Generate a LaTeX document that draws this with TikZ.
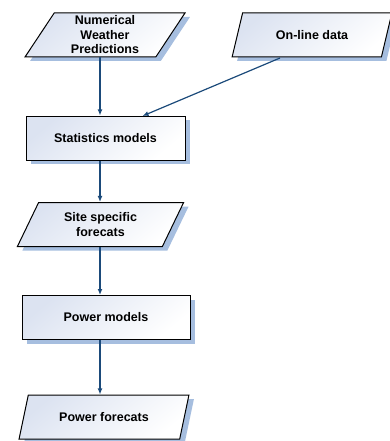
\documentclass[tikz,border=0pt]{standalone}
\usepackage{fontspec}
\setmainfont{Liberation Sans}
\usetikzlibrary{shapes.geometric,shadows,arrows.meta}
\definecolor{boxtop}{HTML}{DCE3F1}
\definecolor{boxbottom}{HTML}{FFFFFF}
\definecolor{shadowblue}{HTML}{A6BEDF}
\definecolor{flowblue}{HTML}{1B4A7A}
\tikzset{
  basebox/.style={draw=black, line width=1pt, top color=boxtop, bottom color=boxbottom,
    shading angle=40,
    font=\fontsize{12.5}{14.5}\selectfont\bfseries, align=center, inner sep=1pt,
    drop shadow={shadow xshift=5pt, shadow yshift=-4pt, fill=shadowblue, opacity=1}},
  databox/.style={basebox, trapezium, trapezium left angle=63.4, trapezium right angle=116.6,
    trapezium stretches=true, minimum height=44pt},
  procbox/.style={basebox, rectangle, minimum height=44pt},
  flow/.style={draw=flowblue, line width=1.2pt, -{Latex[length=6pt,width=5pt]}}
}
\begin{document}
\begin{tikzpicture}[x=1pt,y=-1pt]
  \useasboundingbox (0,0) rectangle (389,441);
  % inputs
  \node[databox, minimum width=160pt] (nwp) at (105,35) {Numerical\\Weather\\Predictions};
  \node[databox, minimum width=160pt] (online) at (312,35) {On-line data};
  % processing chain
  \node[procbox, minimum width=159pt] (stat) at (105.5,138) {Statistics models};
  \node[databox, minimum width=167pt] (site) at (100.5,224.5) {Site specific\\forecats};
  \node[procbox, minimum width=168pt] (power) at (106,317.5) {Power models};
  \node[databox, minimum width=170pt] (pfc) at (104,417) {Power forecats};
  % common axis of the vertical connectors
  \coordinate (axis) at (100,0);
  \coordinate (onlinefoot) at (280,58);
  \coordinate (statin) at (142.5,116);
  % connectors
  \draw[flow] (nwp.south -| axis) -- (stat.north -| axis);
  \draw[flow] (onlinefoot) -- (statin);
  \draw[flow] (stat.south -| axis) -- (site.north -| axis);
  \draw[flow] (site.south -| axis) -- (power.north -| axis);
  \draw[flow] (power.south -| axis) -- (pfc.north -| axis);
\end{tikzpicture}
\end{document}
